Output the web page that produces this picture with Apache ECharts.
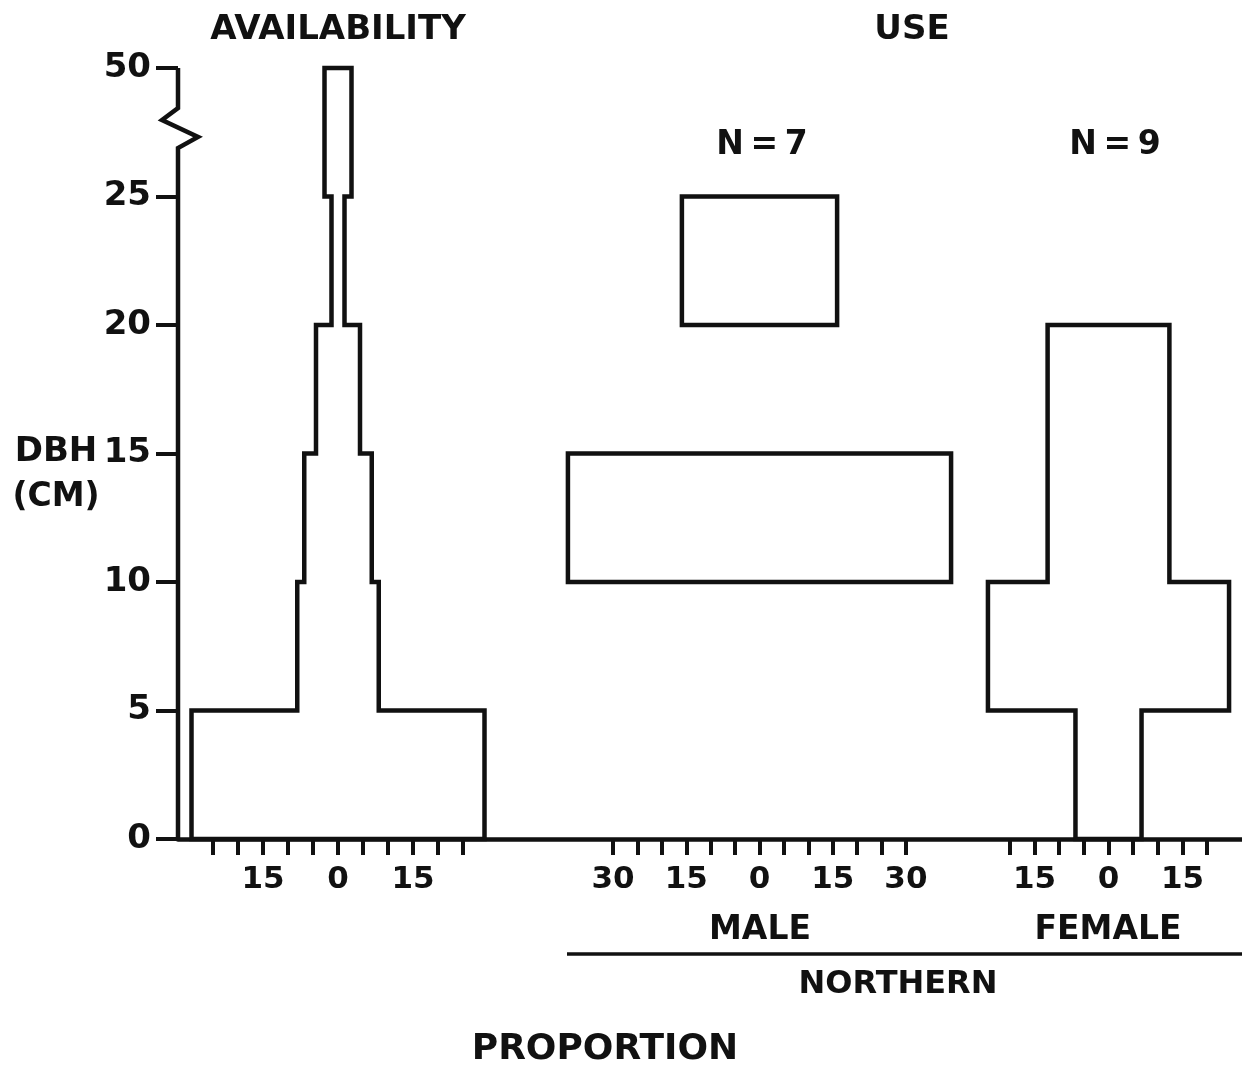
<!DOCTYPE html>
<html>
<head>
<meta charset="utf-8">
<script src="https://cdn.jsdelivr.net/npm/echarts@6/dist/echarts.min.js"></script>
<style>
html,body{margin:0;padding:0;background:#fff}
#main{width:1242px;height:1071px}
</style>
</head>
<body>
<div id="main"></div>
<script>
// DBH class edges (cm) - the 25-50 class is drawn as high as the others
var dbhEdges = [0, 5, 10, 15, 20, 25, 50];
// proportion (%) in each DBH class = full width of the kite
var availability = [58.6, 16.3, 13.5, 8.8, 2.6, 5.4];
var maleNorthern = [0, 0, 78.5, 0, 31.8, 0];
var femaleNorthern = [13.4, 48.9, 24.7, 24.7, 0, 0];
// ticks and labelled ticks of the proportion axes
var availTicks = [-25, -20, -15, -10, -5, 0, 5, 10, 15, 20, 25];
var availLabels = [-15, 0, 15];
var maleTicks = [-30, -25, -20, -15, -10, -5, 0, 5, 10, 15, 20, 25, 30];
var maleLabels = [-30, -15, 0, 15, 30];
var femaleTicks = [-20, -15, -10, -5, 0, 5, 10, 15, 20];
var femaleLabels = [-15, 0, 15];

var font = 'DejaVu Sans';
var ink = '#111';
var TOP = 68, HEIGHT = 771;

function edgeY(i){ return i * 5; }

// one closed outline per run of non empty classes
function kiteLines(w){
    var runs = [], cur = null;
    for (var i = 0; i < w.length; i++){
        if (w[i] > 0){
            if (!cur){ cur = []; runs.push(cur); }
            cur.push(i);
        } else cur = null;
    }
    return runs.map(function(run){
        var pts = [];
        run.forEach(function(i){
            pts.push([-w[i] / 2, edgeY(i)]);
            pts.push([-w[i] / 2, edgeY(i + 1)]);
        });
        for (var k = run.length - 1; k >= 0; k--){
            var j = run[k];
            pts.push([w[j] / 2, edgeY(j + 1)]);
            pts.push([w[j] / 2, edgeY(j)]);
        }
        // close and run on one more point so the first corner gets a proper join
        pts.push(pts[0]);
        pts.push(pts[1]);
        return pts;
    });
}

function propAxis(idx, min, max, ticks, labels){
    return {
        type: 'value', gridIndex: idx, min: min, max: max,
        axisLine: {show: false},
        splitLine: {show: false},
        axisTick: {show: true, length: 16, customValues: ticks, lineStyle: {color: ink, width: 4}},
        axisLabel: {
            margin: 25, fontSize: 31, fontWeight: 'bold', fontFamily: font, color: ink,
            customValues: labels,
            formatter: function(v){ return String(Math.abs(v)); }
        }
    };
}

function hiddenY(idx){
    return {type: 'value', gridIndex: idx, min: 0, max: 30, interval: 5, show: false, splitLine: {show: false}};
}

var series = [];
[[availability, 0], [maleNorthern, 1], [femaleNorthern, 2]].forEach(function(p){
    kiteLines(p[0]).forEach(function(pts){
        series.push({
            type: 'line', xAxisIndex: p[1], yAxisIndex: p[1],
            data: pts, symbol: 'none', clip: false, silent: true,
            lineStyle: {color: ink, width: 4.5, join: 'miter'}
        });
    });
});

var myChart = echarts.init(document.getElementById('main'));
var option = {
    animation: false,
    backgroundColor: '#fff',
    grid: [
        // 0 of each panel sits at x = 338, 759.5, 1108.5
        {left: 178, width: 360, top: TOP, height: HEIGHT},
        {left: 554.5, width: 410, top: TOP, height: HEIGHT},
        {left: 980.3, width: 256.4, top: TOP, height: HEIGHT},
        {left: 178, right: 0, top: TOP, height: HEIGHT}
    ],
    xAxis: [
        propAxis(0, -32, 40, availTicks, availLabels),
        propAxis(1, -42, 42, maleTicks, maleLabels),
        propAxis(2, -26, 26, femaleTicks, femaleLabels),
        // the long base line under all three panels
        {type: 'value', gridIndex: 3, min: 0, max: 1,
         axisLine: {lineStyle: {color: ink, width: 4.5}},
         axisTick: {show: false}, axisLabel: {show: false}, splitLine: {show: false}}
    ],
    yAxis: [
        {type: 'value', gridIndex: 0, min: 0, max: 30, interval: 5,
         axisLine: {show: false, onZero: false},
         splitLine: {show: false},
         axisTick: {show: true, length: 22, lineStyle: {color: ink, width: 4}},
         axisLabel: {
             margin: 27, fontSize: 34, fontWeight: 'bold', fontFamily: font, color: ink,
             formatter: function(v){ return String(dbhEdges[v / 5]); }
         }},
        hiddenY(1), hiddenY(2), hiddenY(3)
    ],
    series: series
};
myChart.setOption(option);

// y axis line with the break between 25 and 50
var ax = 178;
function py(v){ return myChart.convertToPixel({yAxisIndex: 0}, v); }
var yTop = py(30), yBot = py(0);

function txt(x, y, s, size){
    return {type: 'text', x: x, y: y, silent: true,
        style: {text: s, font: 'bold ' + size + 'px "' + font + '"', fill: ink, textAlign: 'center', textVerticalAlign: 'middle'}};
}

myChart.setOption({
    graphic: [
        {type: 'polyline', silent: true,
         shape: {points: [[ax, yTop], [ax, yTop + 40], [ax - 16, yTop + 52], [ax + 20, yTop + 69], [ax, yTop + 80], [ax, yBot]]},
         style: {stroke: ink, lineWidth: 4.5, fill: null, lineJoin: 'miter'}},
        {type: 'line', silent: true, shape: {x1: 567, y1: 954, x2: 1242, y2: 954}, style: {stroke: ink, lineWidth: 3.5}},
        txt(338, 30, 'AVAILABILITY', 34),
        txt(912, 30, 'USE', 34),
        txt(762, 145, 'N\u2009=\u20097', 33),
        txt(1115, 145, 'N\u2009=\u20099', 33),
        txt(760, 930, 'MALE', 33),
        txt(1108, 930, 'FEMALE', 33),
        txt(898, 985, 'NORTHERN', 32),
        txt(605, 1050, 'PROPORTION', 36),
        txt(56, 452, 'DBH', 34),
        txt(56, 497, '(CM)', 33)
    ]
});
</script>
</body>
</html>
